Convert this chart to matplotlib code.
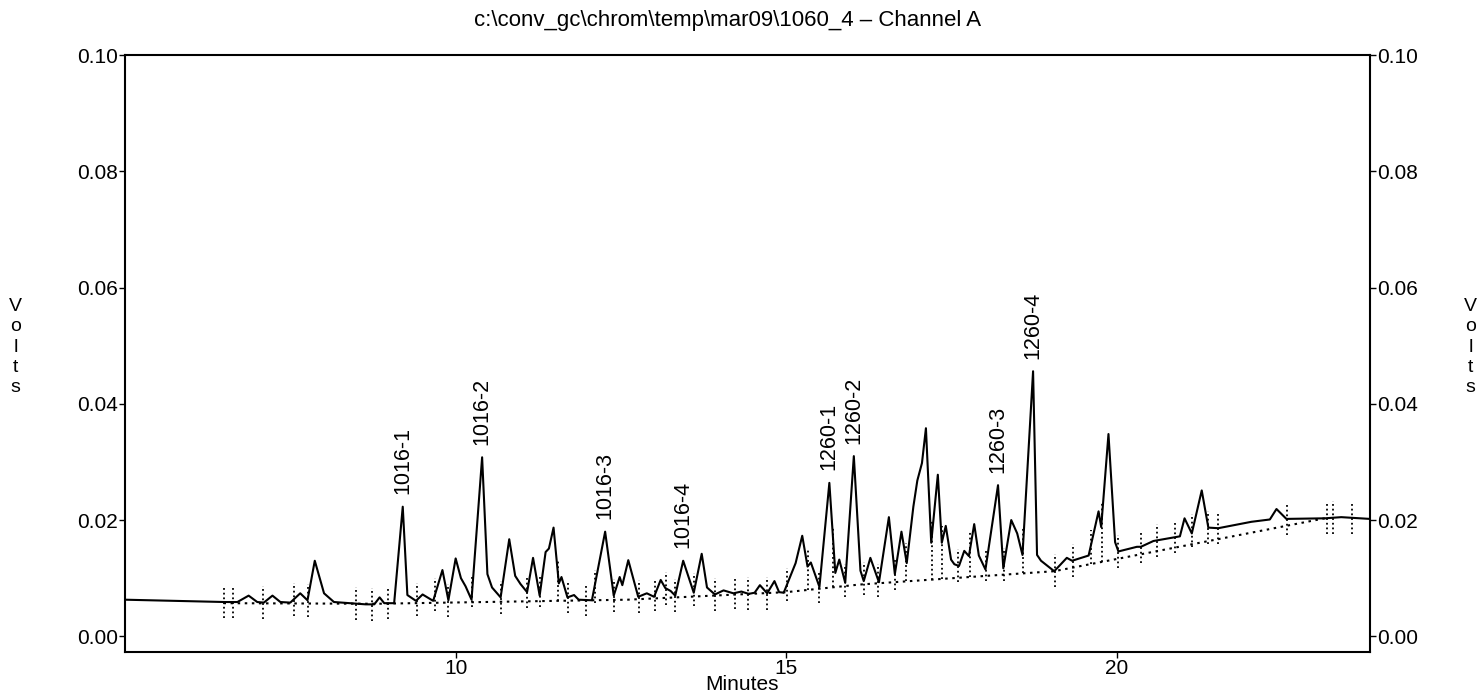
import numpy as np
import matplotlib.pyplot as plt

plt.rcParams['font.family'] = ['Liberation Sans', 'DejaVu Sans']

# detector trace, read at the turning points (minutes, volts)
trace_t = [5.00, 6.51, 6.70, 6.87, 7.00, 7.10, 7.23, 7.35, 7.50, 7.65, 7.76, 7.87,
           8.01, 8.16, 8.64, 8.77, 8.85, 8.92, 9.07, 9.20, 9.27, 9.40, 9.50, 9.66,
           9.80, 9.89, 10.00, 10.08, 10.15, 10.24, 10.40, 10.48, 10.55, 10.68, 10.81,
           10.90, 10.98, 11.08, 11.17, 11.27, 11.36, 11.41, 11.48, 11.56, 11.60, 11.69,
           11.79, 11.86, 12.06, 12.26, 12.39, 12.48, 12.52, 12.61, 12.76, 12.89, 13.00,
           13.10, 13.17, 13.25, 13.32, 13.44, 13.60, 13.72, 13.80, 13.92, 14.05, 14.20,
           14.32, 14.43, 14.52, 14.60, 14.71, 14.82, 14.89, 14.96, 15.14, 15.24, 15.32,
           15.37, 15.50, 15.65, 15.74, 15.80, 15.89, 16.02, 16.12, 16.17, 16.27, 16.40,
           16.55, 16.64, 16.74, 16.82, 16.92, 16.98, 17.05, 17.11, 17.19, 17.29, 17.35,
           17.41, 17.49, 17.54, 17.61, 17.69, 17.76, 17.84, 17.91, 18.01, 18.20, 18.28,
           18.40, 18.49, 18.57, 18.73, 18.79, 18.85, 19.05, 19.24, 19.32, 19.57, 19.72,
           19.76, 19.87, 19.97, 20.02, 20.30, 20.36, 20.55, 20.85, 20.95, 21.02, 21.13,
           21.28, 21.38, 21.53, 22.03, 22.31, 22.41, 22.56, 23.14, 23.39, 23.82]
trace_v = [0.0063, 0.0059, 0.0059, 0.0070, 0.0059, 0.0058, 0.0070, 0.0059, 0.0058, 0.0074,
           0.0062, 0.0130, 0.0074, 0.0059, 0.0055, 0.0055, 0.0067, 0.0057, 0.0057, 0.0223,
           0.0071, 0.0061, 0.0072, 0.0061, 0.0114, 0.0062, 0.0134, 0.0100, 0.0086, 0.0063,
           0.0308, 0.0107, 0.0084, 0.0067, 0.0167, 0.0104, 0.0090, 0.0076, 0.0135, 0.0070,
           0.0145, 0.0151, 0.0187, 0.0091, 0.0102, 0.0067, 0.0071, 0.0063, 0.0062, 0.0180,
           0.0070, 0.0102, 0.0088, 0.0131, 0.0068, 0.0074, 0.0068, 0.0097, 0.0083, 0.0078,
           0.0070, 0.0130, 0.0075, 0.0142, 0.0084, 0.0072, 0.0079, 0.0074, 0.0077, 0.0073,
           0.0075, 0.0088, 0.0074, 0.0095, 0.0076, 0.0075, 0.0126, 0.0173, 0.0120, 0.0127,
           0.0085, 0.0264, 0.0109, 0.0132, 0.0092, 0.0310, 0.0113, 0.0095, 0.0135, 0.0093,
           0.0205, 0.0107, 0.0180, 0.0126, 0.0223, 0.0268, 0.0298, 0.0358, 0.0161, 0.0278,
           0.0161, 0.0190, 0.0132, 0.0124, 0.0121, 0.0147, 0.0138, 0.0193, 0.0139, 0.0115,
           0.0260, 0.0117, 0.0200, 0.0177, 0.0140, 0.0456, 0.0140, 0.0130, 0.0112, 0.0135,
           0.0130, 0.0139, 0.0215, 0.0188, 0.0348, 0.0162, 0.0146, 0.0154, 0.0154, 0.0164,
           0.0170, 0.0172, 0.0203, 0.0177, 0.0251, 0.0187, 0.0186, 0.0197, 0.0201, 0.0219,
           0.0202, 0.0203, 0.0205, 0.0202]

# integration baseline
base_t = [6.49, 8.80, 12.60, 15.00, 16.10, 19.05, 23.14]
base_v = [0.0057, 0.0056, 0.0063, 0.0076, 0.0089, 0.0112, 0.0203]

# peak start/stop events
event_t = [6.49, 6.63, 7.08, 7.55, 7.76, 8.49, 8.74, 8.97, 9.42, 9.69, 9.89, 10.25,
           10.68, 11.08, 11.28, 11.55, 11.70, 11.97, 12.10, 12.39, 12.77, 13.01, 13.18,
           13.32, 13.61, 13.92, 14.23, 14.42, 14.71, 15.01, 15.33, 15.50, 15.71, 15.88,
           16.18, 16.39, 16.64, 16.81, 17.20, 17.35, 17.60, 17.78, 18.02, 18.29, 18.58,
           19.06, 19.34, 19.60, 19.77, 20.02, 20.36, 20.60, 20.88, 21.14, 21.38, 21.52,
           22.57, 23.18, 23.27, 23.55]

peak_names = ['1016-1', '1016-2', '1016-3', '1016-4',
              '1260-1', '1260-2', '1260-3', '1260-4']
peak_t = [9.20, 10.40, 12.26, 13.44, 15.65, 16.02, 18.20, 18.73]

trace_t = np.array(trace_t)
trace_v = np.array(trace_v)

fig = plt.figure(figsize=(14.84, 6.94), dpi=100)
ax = fig.add_axes([0.0842, 0.0605, 0.8388, 0.8602])

ax.plot(trace_t, trace_v, color='black', lw=1.5)
ax.plot(base_t, base_v, color='black', lw=1.5, ls=(0, (1.2, 2.2)))

for t in event_t:
    yv = np.interp(t, trace_t, trace_v)
    yb = np.interp(t, base_t, base_v)
    ax.plot([t, t], [min(yv - 0.0028, yb), yv + 0.0028], color='black',
            lw=1.3, ls=(0, (1.0, 1.6)))

for name, t in zip(peak_names, peak_t):
    near = np.abs(trace_t - t) < 0.05
    top = trace_v[near].max()
    ax.annotate(name, (t, top), xytext=(0, 9), textcoords='offset points',
                rotation=90, ha='center', va='bottom', fontsize=15.5)

ax.set_xlim(5.0, 23.82)
ax.set_ylim(-0.0027, 0.10)
ax.set_xticks([10, 15, 20])
ax.set_yticks([0.00, 0.02, 0.04, 0.06, 0.08, 0.10])
ax.yaxis.set_major_formatter(plt.FormatStrFormatter('%.2f'))
ax.tick_params(axis='both', direction='out', length=4, width=1, labelsize=15, pad=1)
ax.tick_params(axis='y', right=True, labelright=True)
for sp in ax.spines.values():
    sp.set_linewidth(1.5)

fig.text(0.5, 0.014, 'Minutes', ha='center', va='center', fontsize=15)

fig.text(0.49, 0.971, 'c:\\conv_gc\\chrom\\temp\\mar09\\1060_4 \u2013 Channel A',
         ha='center', va='center', fontsize=16)
for xpos in (0.0105, 0.991):
    fig.text(xpos, 0.50, 'V\no\nl\nt\ns', ha='center', va='center',
             fontsize=14, linespacing=1.25)

fig.savefig('out.png', dpi=100)
